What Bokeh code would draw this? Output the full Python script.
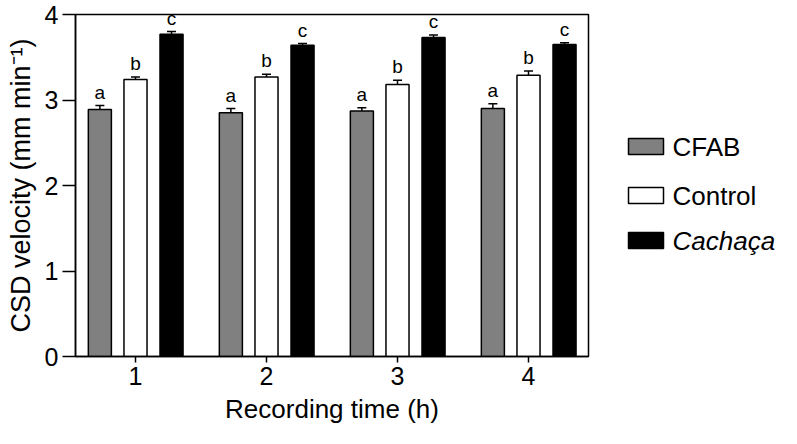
from bokeh.plotting import figure
from bokeh.layouts import row
from bokeh.models import ColumnDataSource, Whisker, TeeHead, FixedTicker, Range1d
from bokeh.core.properties import value
from bokeh.embed import file_html
from bokeh.resources import INLINE

# ---- data ----
hours = ["1", "2", "3", "4"]
series_names = ["CFAB", "Control", "Cachaça"]
cfab = [2.89, 2.85, 2.87, 2.90]
cfab_err = [0.045, 0.05, 0.04, 0.055]
control = [3.24, 3.27, 3.18, 3.29]
control_err = [0.03, 0.03, 0.05, 0.05]
cachaca = [3.77, 3.64, 3.73, 3.65]
cachaca_err = [0.03, 0.02, 0.03, 0.02]
letters = ["a", "b", "c"]
y_ticks = [0, 1, 2, 3, 4]

FONT = "Liberation Sans"
fills = ["#808080", "#ffffff", "#000000"]
offsets = [-0.272, 0.0, 0.275]
bar_w = 0.176
H = 440
TOP, BOTTOM = 14, 84
PW = 596

p = figure(width=PW, height=H, output_backend="svg", toolbar_location=None,
           x_range=Range1d(0.542, 4.458), y_range=Range1d(0, 4),
           min_border_left=75, min_border_right=8, min_border_top=TOP,
           min_border_bottom=BOTTOM)
p.xgrid.visible = False
p.ygrid.visible = False
p.outline_line_color = "black"
p.outline_line_width = 1.5
p.background_fill_color = "white"
p.border_fill_color = "white"

all_vals = [cfab, control, cachaca]
all_errs = [cfab_err, control_err, cachaca_err]
for i, (vals, errs) in enumerate(zip(all_vals, all_errs)):
    xs = [k + 1 + offsets[i] for k in range(len(hours))]
    hi = [v + e for v, e in zip(vals, errs)]
    src = ColumnDataSource(dict(x=xs, top=vals, hi=hi, lab=[letters[i]] * len(vals)))
    p.vbar(x="x", top="top", width=bar_w, bottom=0, source=src,
           fill_color=fills[i], line_color="black", line_width=1.5)
    w = Whisker(source=src, base="x", lower="top", upper="hi", dimension="height",
                line_color="black", line_width=1.5, lower_head=None,
                upper_head=TeeHead(size=9, line_color="black", line_width=1.5))
    p.add_layout(w)
    p.text(x="x", y="hi", text="lab", source=src, text_align="center",
           text_baseline="bottom", y_offset=-3, text_font=value(FONT),
           text_font_size="19px", text_color="black")

# axes
p.xaxis.ticker = FixedTicker(ticks=[1, 2, 3, 4])
p.xaxis.major_label_overrides = {k + 1: h for k, h in enumerate(hours)}
p.yaxis.ticker = FixedTicker(ticks=y_ticks)
for ax in (p.xaxis[0], p.yaxis[0]):
    ax.axis_line_width = 1.5
    ax.major_tick_line_width = 1.5
    ax.major_tick_in = 0
    ax.minor_tick_line_color = None
    ax.major_label_text_font = FONT
    ax.major_label_text_font_size = "25px"
    ax.major_label_text_color = "black"
    ax.axis_label_text_font = FONT
    ax.axis_label_text_font_style = "normal"
    ax.axis_label_text_color = "black"
    ax.axis_line_color = "black"
    ax.major_tick_line_color = "black"
p.xaxis.major_tick_out = 6
p.xaxis.major_label_standoff = 4
p.xaxis.axis_label = "Recording time (h)"
p.xaxis.axis_label_text_font_size = "26px"
p.xaxis.axis_label_standoff = 6
p.yaxis.major_tick_out = 13
p.yaxis.major_label_standoff = 4
p.yaxis.axis_label = "CSD velocity (mm min\u207b\u00b9)"
p.yaxis.axis_label_text_font_size = "27px"
p.yaxis.axis_label_standoff = 6

# ---- legend panel (separate figure, page-pixel coordinates) ----
LW = 797 - PW
leg = figure(width=LW, height=H, output_backend="svg", toolbar_location=None,
             x_range=Range1d(PW, PW + LW), y_range=Range1d(H - BOTTOM, TOP),
             min_border_left=0, min_border_right=0,
             min_border_top=TOP, min_border_bottom=BOTTOM)
leg.axis.visible = False
leg.xgrid.visible = False
leg.ygrid.visible = False
leg.outline_line_color = None
leg.background_fill_color = "white"
leg.border_fill_color = "white"

row_y = [146, 195, 240]
box_left, box_w, box_h = 628, 35, 16
text_x = box_left + box_w + 9
leg_src = ColumnDataSource(dict(
    left=[box_left] * 3, right=[box_left + box_w] * 3,
    top=[y - box_h / 2 for y in row_y], bottom=[y + box_h / 2 for y in row_y],
    fill=fills))
leg.quad(left="left", right="right", top="top", bottom="bottom", source=leg_src,
         fill_color="fill", line_color="black", line_width=1.5)
for i, name in enumerate(series_names):
    leg.text(x=[text_x], y=[row_y[i]], text=[name], text_align="left",
             text_baseline="middle", text_font=value(FONT), text_font_size="26px",
             text_font_style="italic" if i == 2 else "normal", text_color="black")

layout = row(p, leg, spacing=0)
open("out.html", "w").write(file_html(layout, INLINE))
